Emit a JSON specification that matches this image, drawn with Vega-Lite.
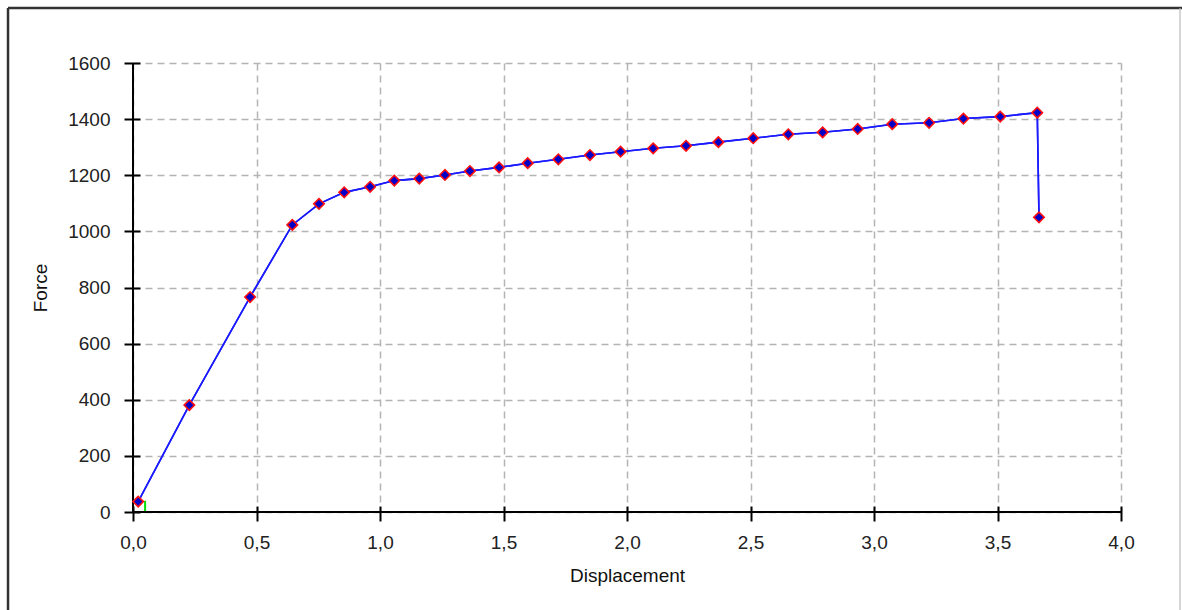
{
  "$schema": "https://vega.github.io/schema/vega-lite/v6.json",
  "width": 988,
  "height": 449,
  "autosize": {"type": "none"},
  "padding": {"left": 133, "top": 63, "right": 61, "bottom": 98},
  "background": "white",
  "config": {
    "view": {"stroke": null},
    "font": "Liberation Sans",
    "axis": {
      "labelFont": "Liberation Sans",
      "labelFontSize": 19,
      "labelColor": "#222222",
      "labelFlush": false,
      "titleFont": "Liberation Sans",
      "titleFontSize": 19,
      "titleFontWeight": "normal",
      "titleColor": "#111111",
      "domain": false,
      "tickColor": "#000000",
      "tickWidth": 2,
      "gridColor": "#b4b4b4",
      "gridDash": [7, 5],
      "gridWidth": 1.5
    }
  },
  "datasets": {
    "main": [
      {"d": 0.021, "f": 37},
      {"d": 0.228, "f": 381},
      {"d": 0.474, "f": 766},
      {"d": 0.645, "f": 1023},
      {"d": 0.753, "f": 1098},
      {"d": 0.855, "f": 1139},
      {"d": 0.96, "f": 1159},
      {"d": 1.058, "f": 1181},
      {"d": 1.159, "f": 1188},
      {"d": 1.263, "f": 1201},
      {"d": 1.364, "f": 1215},
      {"d": 1.482, "f": 1228},
      {"d": 1.598, "f": 1243},
      {"d": 1.722, "f": 1257},
      {"d": 1.85, "f": 1272},
      {"d": 1.974, "f": 1284},
      {"d": 2.106, "f": 1296},
      {"d": 2.239, "f": 1305},
      {"d": 2.37, "f": 1318},
      {"d": 2.511, "f": 1332},
      {"d": 2.653, "f": 1346},
      {"d": 2.792, "f": 1353},
      {"d": 2.934, "f": 1365},
      {"d": 3.074, "f": 1382},
      {"d": 3.223, "f": 1387},
      {"d": 3.362, "f": 1402},
      {"d": 3.511, "f": 1409},
      {"d": 3.661, "f": 1423},
      {"d": 3.668, "f": 1050}
    ],
    "green": [
      {"d": 0.049, "f": 0},
      {"d": 0.049, "f": 40}
    ]
  },
  "layer": [
    {
      "data": {"name": "main"},
      "mark": {"type": "line", "color": "#1a1aff", "strokeWidth": 1.6},
      "encoding": {
        "x": {
          "field": "d", "type": "quantitative",
          "scale": {"domain": [0, 4], "nice": false},
          "axis": {
            "title": "Displacement",
            "orient": "bottom",
            "values": [0, 0.5, 1, 1.5, 2, 2.5, 3, 3.5, 4],
            "labelExpr": "replace(format(datum.value, '.1f'), '.', ',')",
            "offset": -6,
            "tickSize": 15,
            "labelPadding": 12,
            "titlePadding": 14,
            "grid": true
          }
        },
        "y": {
          "field": "f", "type": "quantitative",
          "scale": {"domain": [0, 1600], "nice": false},
          "axis": {
            "title": "Force",
            "orient": "left",
            "values": [0, 200, 400, 600, 800, 1000, 1200, 1400, 1600],
            "format": "d",
            "offset": -7,
            "tickSize": 16,
            "labelPadding": 14,
            "titlePadding": 17,
            "grid": true
          }
        }
      }
    },
    {
      "data": {"name": "green"},
      "mark": {"type": "line", "color": "#00dd00", "strokeWidth": 2},
      "encoding": {
        "x": {"field": "d", "type": "quantitative"},
        "y": {"field": "f", "type": "quantitative"}
      }
    },
    {
      "data": {"values": [{}]},
      "mark": {"type": "rule", "color": "#000000", "strokeWidth": 2, "clip": false},
      "encoding": {
        "x": {"datum": 0, "type": "quantitative"},
        "y": {"datum": 0, "type": "quantitative"},
        "y2": {"datum": 1600}
      }
    },
    {
      "data": {"values": [{}]},
      "mark": {"type": "rule", "color": "#000000", "strokeWidth": 2, "clip": false},
      "encoding": {
        "x": {"datum": 0, "type": "quantitative"},
        "x2": {"datum": 4},
        "y": {"datum": 0, "type": "quantitative"}
      }
    },
    {
      "data": {"name": "main"},
      "mark": {"type": "line", "color": "#1a1aff", "strokeWidth": 1.6},
      "encoding": {
        "x": {"field": "d", "type": "quantitative"},
        "y": {"field": "f", "type": "quantitative"}
      }
    },
    {
      "data": {"name": "main"},
      "mark": {"type": "point", "shape": "diamond", "filled": true, "size": 110, "fill": "#0000c8", "stroke": "#ff1010", "strokeWidth": 1.6, "opacity": 1},
      "encoding": {
        "x": {"field": "d", "type": "quantitative"},
        "y": {"field": "f", "type": "quantitative"}
      }
    },
    {
      "data": {"values": [{}]},
      "mark": {"type": "rule", "color": "#333333", "strokeWidth": 2.5, "clip": false},
      "encoding": {
        "x": {"datum": -0.506, "type": "quantitative"},
        "y": {"datum": 1796, "type": "quantitative"},
        "y2": {"datum": -420}
      }
    },
    {
      "data": {"values": [{}]},
      "mark": {"type": "rule", "color": "#333333", "strokeWidth": 2.5, "clip": false},
      "encoding": {
        "x": {"datum": -0.506, "type": "quantitative"},
        "x2": {"datum": 4.3},
        "y": {"datum": 1796, "type": "quantitative"}
      }
    },
    {
      "data": {"values": [{}]},
      "mark": {"type": "rule", "color": "#bbbbbb", "strokeWidth": 1.2, "clip": false},
      "encoding": {
        "x": {"datum": 4.239, "type": "quantitative"},
        "y": {"datum": 1796, "type": "quantitative"},
        "y2": {"datum": -420}
      }
    }
  ]
}
